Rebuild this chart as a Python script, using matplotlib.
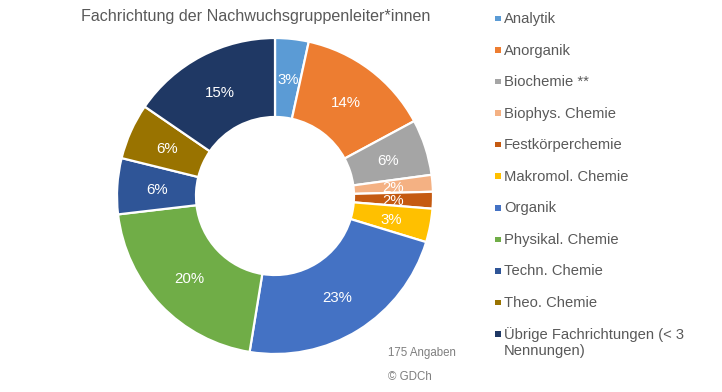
import matplotlib
matplotlib.use('Agg')
import matplotlib.pyplot as plt
from matplotlib.patches import Rectangle

plt.rcParams['font.family'] = ['Liberation Sans', 'DejaVu Sans']

categories = ['Analytik', 'Anorganik', 'Biochemie **', 'Biophys. Chemie', 'Festkörperchemie',
              'Makromol. Chemie', 'Organik', 'Physikal. Chemie', 'Techn. Chemie', 'Theo. Chemie',
              'Übrige Fachrichtungen (< 3\nNennungen)']
counts = [6, 24, 10, 3, 3, 6, 40, 36, 10, 10, 27]
pct_labels = ['3%', '14%', '6%', '2%', '2%', '3%', '23%', '20%', '6%', '6%', '15%']
colors = ['#5B9BD5', '#ED7D31', '#A5A5A5', '#F4B183', '#C55A11', '#FFC000',
          '#4472C4', '#70AD47', '#2F5597', '#997300', '#1F3864']

W, H = 722, 392
fig = plt.figure(figsize=(W / 100, H / 100), dpi=100)

# pie centre (275,196), outer radius 158 px
ax = fig.add_axes([(275 - 160) / W, 1 - (196 + 160) / H, 320 / W, 320 / H])
ax.set_xlim(-160, 160)
ax.set_ylim(-160, 160)
ax.set_aspect('equal')
ax.axis('off')
wedges, texts = ax.pie(counts, colors=colors, radius=158, startangle=90, counterclock=False,
                       labels=pct_labels, labeldistance=0.75, frame=False,
                       wedgeprops=dict(width=79, edgecolor='white', linewidth=1.6),
                       textprops=dict(color='white', fontsize=10.8, ha='center', va='center_baseline'))
ax.set_xlim(-160, 160)
ax.set_ylim(-160, 160)

fig.text(256 / W, 1 - 16.5 / H, 'Fachrichtung der Nachwuchsgruppenleiter*innen', fontsize=11.65,
         color='#595959', ha='center', va='center')

# legend
for i, (name, c) in enumerate(zip(categories, colors)):
    y = 18.5 + i * 31.55
    fig.add_artist(Rectangle((495 / W, 1 - (y + 2.8) / H), 5.6 / W, 5.6 / H, color=c, lw=0,
                             transform=fig.transFigure))
    fig.text(504 / W, 1 - (y - 6.5) / H, name, fontsize=10.6, color='#595959', ha='left', va='top',
             linespacing=1.12)

fig.text(388.5 / W, 1 - 353 / H, '175 Angaben', fontsize=8.3, color='#7F7F7F', ha='left', va='center')
fig.text(388.5 / W, 1 - 377 / H, '© GDCh', fontsize=8.3, color='#7F7F7F', ha='left', va='center')

fig.savefig('out.png', dpi=100)
